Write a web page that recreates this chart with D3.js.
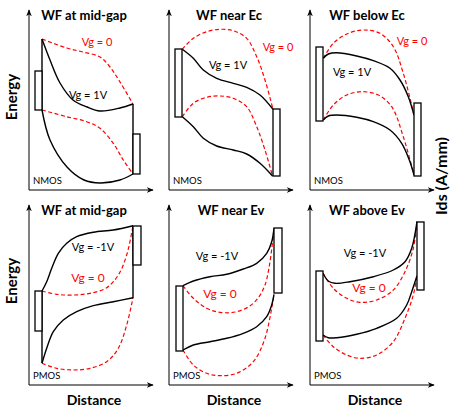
<!DOCTYPE html>
<html><head><meta charset="utf-8">
<script src="https://cdn.jsdelivr.net/npm/d3@7"></script>
<style>body{margin:0;background:#fff}svg{display:block}</style>
</head><body>
<script>
// ---- data (panel-local units: d = distance, E = energy) ----
const titles = ["WF at mid-gap","WF near Ec","WF below Ec","WF at mid-gap","WF near Ev","WF above Ev"];
const deviceTypes = ["NMOS","NMOS","NMOS","PMOS","PMOS","PMOS"];
const blackLabels = ["Vg = 1V","Vg = 1V","Vg = 1V","Vg = -1V","Vg = -1V","Vg = -1V"];
const redLabels = ["Vg = 0","Vg = 0","Vg = 0","Vg = 0","Vg = 0","Vg = 0"];
const blackLabelPos = [[59,95],[59,125],[42,118],[64,138],[48,129],[55,132]];
const redLabelPos = [[68,148],[109,143],[102,149],[59,107],[51,91],[59,97]];
const titlePos = [55,60,57,55,62,57];

// contact rectangles [d0,d1,E0,E1]
const leftContacts = [[6,13,80,119],[6,13,73,141],[6,13,69,143],[6,13,54,94],[7,14,34,99],[6,13,44,114]];
const rightContacts = [[104,111,16,56],[104,111,14,81],[104,111,14,87],[104,112,120,159],[105,113,92,157],[107,114,95,163]];

// vertical band edges (panels 1 and 4)
const walls1 = [[[13,151],[13,80]],[[104,86],[104,16]]];
const walls4 = [[[13,94],[13,22]],[[104,159],[104,87]]];

// Panel 1: NMOS, WF at mid-gap
const p1BlackUp = [[13,151],[21,130],[31,107],[44,90],[58,83],[71,79],[91,82],[104,86]];
const p1BlackLo = [[13,80],[21,50],[38,23],[55,10],[71,7],[91,10],[104,16]];
const p1RedUp = [[13,151],[37.7,142],[54,138],[71,133],[81,123],[91,108],[104,86]];
const p1RedLo = [[13,80],[37.7,73.3],[57.7,68.3],[71,61.7],[84.3,46.7],[94.3,30],[104,16]];
// Panel 2: NMOS, WF near Ec
const p2BlackUp = [[13.3,140.7],[24.3,131.7],[34.3,120],[47.7,111.7],[64.3,106.7],[77.7,102.7],[91,95],[104,80.7]];
const p2BlackLo = [[13.3,73.3],[24.3,63.3],[34.3,51.7],[47.7,44],[64.3,40],[77.7,36],[91,26.7],[103.5,14]];
const p2RedUp = [[13.3,140.7],[24.3,151.7],[37.7,158.3],[51,160.7],[64.3,159.3],[77.7,151.7],[87.7,133.3],[96,110],[104,80.7]];
const p2RedLo = [[13.3,73.3],[24.3,86.7],[37.7,92.7],[51,94],[64.3,91.7],[77.7,83.3],[87.7,63.3],[96,40],[103.5,14]];
// Panel 3: NMOS, WF below Ec
const p3BlackUp = [[13.3,131.7],[18.3,136],[26.7,137.3],[46.7,134],[63.3,129.3],[80,121.7],[90,110],[98.3,93.3],[104,75]];
const p3BlackLo = [[13.3,70],[18.3,74],[26.7,75],[46.7,72.7],[63.3,68.3],[80,60],[91.7,46.7],[99.3,30],[104,15]];
const p3RedUp = [[13.3,131.7],[23.3,146.7],[36.7,156],[53.3,160],[70,156.7],[83.3,143.3],[93.3,116.7],[104,75]];
const p3RedLo = [[13.3,70],[23.3,85],[36.7,95],[51.7,98.3],[68.3,95],[81.7,83.3],[93.3,53.3],[104,15]];
// Panel 4: PMOS, WF at mid-gap
const p4BlackUp = [[13,94],[17.7,103.3],[22.7,116.7],[29.3,131.7],[37.7,141.7],[47.7,148.3],[64.3,152.7],[84.3,155],[104,159.3]];
const p4BlackLo = [[13,21.7],[17.7,36.7],[24.3,53.3],[34.3,65],[47.7,73.3],[64.3,79.3],[84.3,83.3],[104,87.3]];
const p4RedUp = [[13,94],[27.7,90.7],[44.3,90],[61,91.7],[77.7,97.3],[89.3,110],[97.7,130],[104,159.3]];
const p4RedLo = [[13,21.7],[27.7,16.7],[44.3,15],[61,16.7],[77.7,23.3],[89.3,36.7],[97.7,60],[104,87.3]];
// Panel 5: PMOS, WF near Ev
const p5BlackUp = [[14,99.3],[24.3,104],[41,108.3],[57.7,110.7],[74.3,116],[87.7,121.7],[97.7,131.7],[102.7,143.3],[105,156.7]];
const p5BlackLo = [[14,35],[24.3,40],[41,43.3],[57.7,46.7],[74.3,51.7],[87.7,58.3],[97.7,68.3],[102.7,80],[105,90.7]];
const p5RedUp = [[14,99.3],[24.3,86.7],[37.7,76.7],[51,72.7],[67.7,73.3],[84.3,81.7],[96,100],[105,156.7]];
const p5RedLo = [[14,35],[24.3,20],[37.7,11.7],[51,9.3],[67.7,11.7],[84.3,23.3],[96,46.7],[105,90.7]];
// Panel 6: PMOS, WF above Ev
const p6BlackUp = [[13,111.7],[18.3,104],[25,101.7],[40,103.3],[63.3,108.3],[83.3,115],[95,123.3],[101.7,136.7],[107,163.3]];
const p6BlackLo = [[13,50],[18.3,47.3],[26.7,47.3],[46.7,50.7],[66.7,56.7],[86.7,66.7],[96.7,80],[101.7,93.3],[107,109.3]];
const p6RedUp = [[13,111.7],[23.3,96.7],[36.7,86.7],[50,82.7],[66.7,85],[83.3,95],[95,113.3],[103.3,136.7],[107,163.3]];
const p6RedLo = [[13,50],[23.3,38.3],[36.7,30],[50,26.7],[66.7,30],[83.3,43.3],[95,66.7],[103.3,90],[107,109.3]];

const blackCurves = [[p1BlackUp,p1BlackLo],[p2BlackUp,p2BlackLo],[p3BlackUp,p3BlackLo],[p4BlackUp,p4BlackLo],[p5BlackUp,p5BlackLo],[p6BlackUp,p6BlackLo]];
const redCurves = [[p1RedUp,p1RedLo],[p2RedUp,p2RedLo],[p3RedUp,p3RedLo],[p4RedUp,p4RedLo],[p5RedUp,p5RedLo],[p6RedUp,p6RedLo]];
const wallsByPanel = [walls1,[],[],walls4,[],[]];

// ---- layout ----
const W = 451, H = 411;
const colX = [29,169,310];
const rowY = [190,385];
const distMax = 124, energyMax = 180;
const FONT = "Lato, 'Open Sans', sans-serif";

const svg = d3.select("body").append("svg").attr("width",W).attr("height",H);
const defs = svg.append("defs");
defs.append("marker").attr("id","arr").attr("viewBox","0 0 10 10").attr("refX",9).attr("refY",5)
  .attr("markerWidth",7).attr("markerHeight",7).attr("orient","auto")
  .append("path").attr("d","M0,1 L10,5 L0,9 L3,5 Z").attr("fill","#000");

titles.forEach((t,i)=>{
  const ox = colX[i%3], oy = rowY[Math.floor(i/3)];
  const x = d3.scaleLinear().domain([0,distMax]).range([ox,ox+distMax]);
  const y = d3.scaleLinear().domain([0,energyMax]).range([oy,oy-energyMax]);
  const g = svg.append("g");
  // axes
  g.append("line").attr("x1",x(0)).attr("y1",y(0)).attr("x2",x(0)).attr("y2",y(energyMax))
    .attr("stroke","#000").attr("stroke-width",1).attr("marker-end","url(#arr)");
  g.append("line").attr("x1",x(0)).attr("y1",y(0)).attr("x2",x(distMax)).attr("y2",y(0))
    .attr("stroke","#000").attr("stroke-width",1).attr("marker-end","url(#arr)");
  const line = d3.line().x(d=>x(d[0])).y(d=>y(d[1])).curve(d3.curveCatmullRom.alpha(0.5));
  const straight = d3.line().x(d=>x(d[0])).y(d=>y(d[1]));
  redCurves[i].forEach(c=>g.append("path").attr("d",line(c)).attr("fill","none")
    .attr("stroke","#ff0000").attr("stroke-width",1.2).attr("stroke-dasharray","4,2.5"));
  blackCurves[i].forEach(c=>g.append("path").attr("d",line(c)).attr("fill","none")
    .attr("stroke","#000").attr("stroke-width",1.4));
  wallsByPanel[i].forEach(c=>g.append("path").attr("d",straight(c)).attr("fill","none")
    .attr("stroke","#000").attr("stroke-width",1.4));
  [leftContacts[i],rightContacts[i]].forEach(r=>g.append("rect")
    .attr("x",x(r[0])).attr("y",y(r[3])).attr("width",x(r[1])-x(r[0])).attr("height",y(r[2])-y(r[3]))
    .attr("fill","#fff").attr("stroke","#000").attr("stroke-width",1.3));
  // texts
  g.append("text").attr("x",x(titlePos[i])).attr("y",oy-energyMax+10)
    .attr("text-anchor","middle").attr("font-family",FONT).attr("font-weight","bold").attr("font-size",13).text(t);
  g.append("text").attr("x",x(blackLabelPos[i][0])).attr("y",y(blackLabelPos[i][1])+4)
    .attr("text-anchor","middle").attr("font-family",FONT).attr("font-size",11).attr("fill","#000").text(blackLabels[i]);
  g.append("text").attr("x",x(redLabelPos[i][0])).attr("y",y(redLabelPos[i][1])+4)
    .attr("text-anchor","middle").attr("font-family",FONT).attr("font-size",i>=3?12:11).attr("fill","#ff0000").text(redLabels[i]);
  g.append("text").attr("x",x(4)).attr("y",y(6)).attr("font-family",FONT).attr("font-size",9.5).text(deviceTypes[i]);
  if(i>=3){
    g.append("text").attr("x",x(65)).attr("y",oy+20).attr("text-anchor","middle")
      .attr("font-family",FONT).attr("font-weight","bold").attr("font-size",14).text("Distance");
  }
});
// Energy labels
[97,281].forEach(cy=>svg.append("text").attr("transform",`translate(17,${cy}) rotate(-90)`)
  .attr("text-anchor","middle").attr("font-family",FONT).attr("font-weight","bold").attr("font-size",15).text("Energy"));
svg.append("text").attr("transform","translate(447,176) rotate(-90)")
  .attr("text-anchor","middle").attr("font-family",FONT).attr("font-weight","bold").attr("font-size",16).text("Ids (A/mm)");
</script>
</body></html>
